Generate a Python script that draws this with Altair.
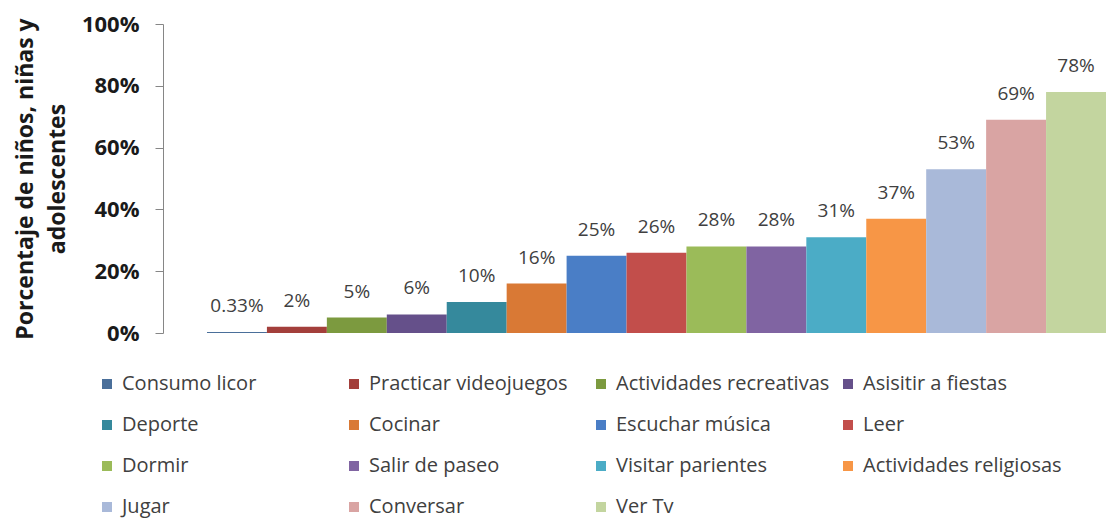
import altair as alt
import pandas as pd

categories = [
    "Consumo licor", "Practicar videojuegos", "Actividades recreativas",
    "Asisitir a fiestas", "Deporte", "Cocinar", "Escuchar música", "Leer",
    "Dormir", "Salir de paseo", "Visitar parientes", "Actividades religiosas",
    "Jugar", "Conversar", "Ver Tv",
]
values = [0.33, 2, 5, 6, 10, 16, 25, 26, 28, 28, 31, 37, 53, 69, 78]
colors = [
    "#4A6F9A", "#A33F3B", "#7C9A3F", "#65508A", "#35899C", "#D97935",
    "#4A7EC6", "#C24E4B", "#9BBB59", "#8064A2", "#4BACC6", "#F79646",
    "#A9B9D9", "#D9A4A3", "#C3D59F",
]
y_ticks = [0, 0.2, 0.4, 0.6, 0.8, 1.0]
y_title = ["Porcentaje de niños, niñas y", "adolescentes"]

df = pd.DataFrame({
    "cat": categories,
    "val": [v / 100 for v in values],
    "label": [f"{v:g}%" for v in values],
})

FONT = "Open Sans"

x_enc = alt.X(
    "cat:N", sort=categories, axis=None,
    scale=alt.Scale(paddingInner=0, paddingOuter=0.367, align=1),
)
y_enc = alt.Y(
    "val:Q",
    scale=alt.Scale(domain=[0, 1], nice=False),
    axis=alt.Axis(
        values=y_ticks, format=".0%", grid=False,
        labelFont=FONT, labelFontWeight="bold", labelFontSize=22,
        labelColor="#1a1a1a", labelPadding=16,
        domainColor="#868686", tickColor="#868686", tickSize=8,
        title=y_title, titleFont=FONT, titleFontWeight="bold",
        titleFontSize=23, titleColor="#1a1a1a", titlePadding=12,
        titleLineHeight=32,
    ),
)

bars = alt.Chart(df).mark_bar(strokeWidth=0).encode(
    x=x_enc,
    y=y_enc,
    color=alt.Color(
        "cat:N",
        scale=alt.Scale(domain=categories, range=colors),
        legend=alt.Legend(
            title=None, orient="none", legendX=-66, legendY=350,
            direction="horizontal",
            columns=4, gridAlign="all", columnPadding=8, rowPadding=21,
            symbolType="square", symbolSize=100, symbolStrokeWidth=0,
            symbolOpacity=1, labelFont=FONT, labelFontSize=20,
            labelColor="#404040", labelOffset=5, labelLimit=400, padding=0,
        ),
    ),
)

labels = alt.Chart(df).mark_text(
    baseline="alphabetic", dy=-20, font=FONT, fontSize=19, color="#404040"
).encode(x=x_enc, y=alt.Y("val:Q"), text="label:N")

chart = (
    alt.layer(bars, labels)
    .properties(
        width=943, height=309,
        autosize=alt.AutoSizeParams(type="none"),
        padding={"left": 155, "top": 16, "right": 0, "bottom": 190},
    )
    .configure_view(stroke=None)
)

chart.save("out.html", embed_options={"renderer": "svg", "actions": False})
